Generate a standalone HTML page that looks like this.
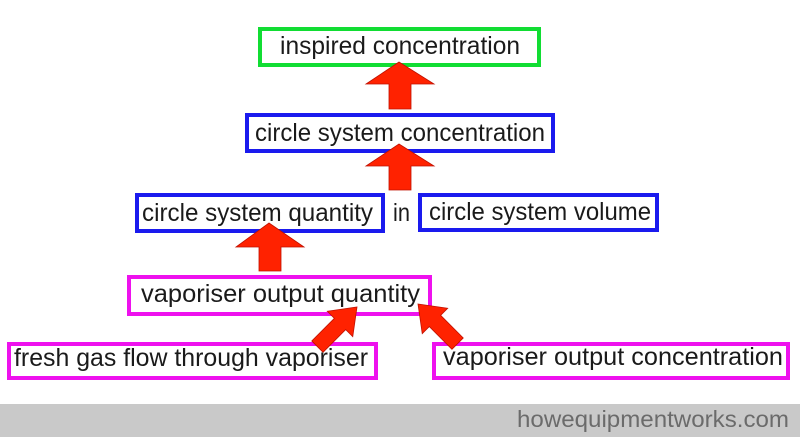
<!DOCTYPE html>
<html>
<head>
<meta charset="utf-8">
<style>
  html, body { margin: 0; padding: 0; background: #ffffff; }
  body { width: 800px; height: 437px; overflow: hidden; }
  svg { display: block; }
  text { font-family: "Liberation Sans", Arial, sans-serif; fill: #1a1a1a; }
</style>
</head>
<body>
<svg width="800" height="437" viewBox="0 0 800 437" xmlns="http://www.w3.org/2000/svg">
  <rect x="0" y="0" width="800" height="437" fill="#ffffff"/>

  <!-- Boxes -->
  <rect x="260" y="29" width="279" height="36" fill="#fff" stroke="#11dd33" stroke-width="4"/>
  <rect x="247" y="115" width="306" height="36" fill="#fff" stroke="#1a1aee" stroke-width="4"/>
  <rect x="137" y="195" width="246" height="36" fill="#fff" stroke="#1a1aee" stroke-width="4"/>
  <rect x="420" y="195" width="237" height="35" fill="#fff" stroke="#1a1aee" stroke-width="4"/>
  <rect x="129" y="277" width="301" height="37" fill="#fff" stroke="#ee11ee" stroke-width="4"/>
  <rect x="9" y="344" width="367" height="34" fill="#fff" stroke="#ee11ee" stroke-width="4"/>
  <rect x="434" y="344" width="354" height="34" fill="#fff" stroke="#ee11ee" stroke-width="4"/>

  <!-- Vertical arrows -->
  <g fill="#ff2200" stroke="#c01000" stroke-width="0.8" stroke-linejoin="miter">
    <polygon points="399,62 434,84 411,84 411,109 389,109 389,84 366,84"/>
    <polygon points="399,144 434,166 411,166 411,190 389,190 389,166 366,166"/>
    <polygon points="269,223 304,247 281,247 281,271 259,271 259,247 236,247"/>
    <!-- Diagonal arrows -->
    <polygon transform="translate(357,307) rotate(45)" points="0,0 18,24 8,24 8,56 -8,56 -8,24 -18,24"/>
    <polygon transform="translate(418,304) rotate(-45)" points="0,0 18,24 8,24 8,56 -8,56 -8,24 -18,24"/>
  </g>

  <!-- Labels -->
  <text x="280" y="54" font-size="25" textLength="240" lengthAdjust="spacingAndGlyphs">inspired concentration</text>
  <text x="255" y="141" font-size="25" textLength="290" lengthAdjust="spacingAndGlyphs">circle system concentration</text>
  <text x="142" y="221" font-size="25" textLength="231" lengthAdjust="spacingAndGlyphs">circle system quantity</text>
  <text x="393" y="221" font-size="25" textLength="17" lengthAdjust="spacingAndGlyphs">in</text>
  <text x="429" y="220" font-size="25" textLength="222" lengthAdjust="spacingAndGlyphs">circle system volume</text>
  <text x="141" y="302" font-size="25" textLength="279" lengthAdjust="spacingAndGlyphs">vaporiser output quantity</text>
  <text x="14" y="366" font-size="25" textLength="354" lengthAdjust="spacingAndGlyphs">fresh gas flow through vaporiser</text>
  <text x="443" y="365" font-size="25" textLength="340" lengthAdjust="spacingAndGlyphs">vaporiser output concentration</text>

  <!-- Footer -->
  <rect x="0" y="404" width="800" height="33" fill="#c9c9c9"/>
  <text x="517" y="427" font-size="23" fill="#6b6b6b" style="fill:#6b6b6b" textLength="272" lengthAdjust="spacingAndGlyphs">howequipmentworks.com</text>
</svg>
</body>
</html>
